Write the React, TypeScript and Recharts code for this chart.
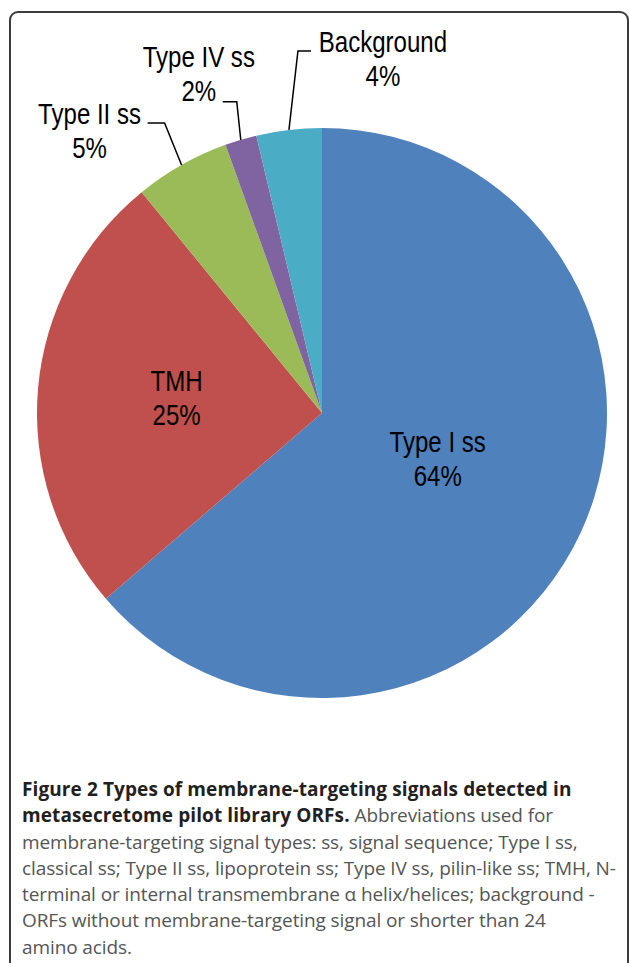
import React from 'react';
import { PieChart, Pie, Cell } from 'recharts';

// signal types, clockwise from 12 o'clock
const categories = ['Type I ss', 'TMH', 'Type II ss', 'Type IV ss', 'Background'];
const shares = [63.7, 25.4, 5.4, 1.8, 3.7];
const colors = ['#4F81BD', '#C0504D', '#9BBB59', '#8064A2', '#4BACC6'];

const data = categories.map((name, i) => ({ name, value: shares[i] }));

const RADIAN = Math.PI / 180;
const LABEL_FONT = "'Liberation Sans', Arial, sans-serif";
const LINE_GAP = 34;

// where each label sits: inner labels by radius, outer ones by leader line elbow/arm
const LABEL_LAYOUT: Record<string, any> = {
  'Type I ss': { inside: true, r: 124, nx: 3, ny: -6 },
  'TMH': { inside: true, r: 146, nx: 0, ny: -3 },
  'Type II ss': { elbow: [-17, -42], arm: -17, text: [-58, 1] },
  'Type IV ss': { elbow: [-4, -38], arm: -14, text: [-24, -35] },
  'Background': { elbow: [9, -79], arm: 13, text: [72, 1] },
};

// Excel-ish narrow label: Arial squeezed horizontally
const NarrowLabel = ({ x, y, name, pct }: { x: number; y: number; name: string; pct: string }) => (
  <text
    transform={`translate(${x},${y}) scale(0.83,1)`}
    textAnchor="middle"
    fill="#000"
    fontSize={29}
    fontFamily={LABEL_FONT}
  >
    <tspan x={0} y={0}>{name}</tspan>
    <tspan x={0} dy={LINE_GAP}>{pct}</tspan>
  </text>
);

const renderLabel = (props: any) => {
  const { cx, cy, midAngle, outerRadius, percent, name } = props;
  const lay = LABEL_LAYOUT[name];
  const cos = Math.cos(-midAngle * RADIAN);
  const sin = Math.sin(-midAngle * RADIAN);
  const pct = `${Math.round(percent * 100)}%`;

  if (lay.inside) {
    const x = cx + lay.r * cos + lay.nx;
    const y = cy + lay.r * sin + lay.ny;
    return <NarrowLabel x={x} y={y - 6.5} name={name} pct={pct} />;
  }

  const sx = cx + outerRadius * cos;
  const sy = cy + outerRadius * sin;
  const ex = sx + lay.elbow[0];
  const ey = sy + lay.elbow[1];
  const ax = ex + lay.arm;
  return (
    <g>
      <polyline points={`${sx},${sy} ${ex},${ey} ${ax},${ey}`} fill="none" stroke="#000" strokeWidth={1.5} />
      <NarrowLabel x={ax + lay.text[0]} y={ey + lay.text[1]} name={name} pct={pct} />
    </g>
  );
};

const captionLine: React.CSSProperties = { whiteSpace: 'nowrap', height: 26.3 };

export default function App() {
  return (
    <div style={{ position: 'absolute', left: 0, top: 0, width: 629, height: 963, overflow: 'hidden', background: '#fff' }}>
      <div
        style={{
          position: 'absolute',
          left: 9,
          top: 11,
          width: 620,
          height: 1000,
          boxSizing: 'border-box',
          border: '2px solid #3c3c3c',
          borderRadius: 9,
        }}
      />
      <div style={{ position: 'absolute', left: 0, top: 0 }}>
        <PieChart width={629} height={720} margin={{ top: 0, right: 0, bottom: 0, left: 0 }}>
          <Pie
            data={data}
            dataKey="value"
            nameKey="name"
            cx={322}
            cy={413}
            outerRadius={285}
            startAngle={90}
            endAngle={-270}
            stroke="none"
            label={renderLabel}
            labelLine={false}
            isAnimationActive={false}
          >
            {data.map((d, i) => (
              <Cell key={d.name} fill={colors[i]} />
            ))}
          </Pie>
        </PieChart>
      </div>
      <div
        style={{
          position: 'absolute',
          left: 22,
          top: 776,
          fontFamily: "'Open Sans', sans-serif",
          fontSize: 19,
          letterSpacing: -0.1,
          lineHeight: '26.3px',
          color: '#555',
        }}
      >
        <div style={captionLine}>
          <b style={{ color: '#231f20', letterSpacing: 0.1 }}>Figure 2 Types of membrane-targeting signals detected in</b>
        </div>
        <div style={captionLine}>
          <b style={{ color: '#231f20', letterSpacing: 0.1 }}>metasecretome pilot library ORFs.</b> Abbreviations used for
        </div>
        <div style={captionLine}>membrane-targeting signal types: ss, signal sequence; Type I ss,</div>
        <div style={captionLine}>classical ss; Type II ss, lipoprotein ss; Type IV ss, pilin-like ss; TMH, N-</div>
        <div style={captionLine}>terminal or internal transmembrane α helix/helices; background -</div>
        <div style={captionLine}>ORFs without membrane-targeting signal or shorter than 24</div>
        <div style={captionLine}>amino acids.</div>
      </div>
    </div>
  );
}
